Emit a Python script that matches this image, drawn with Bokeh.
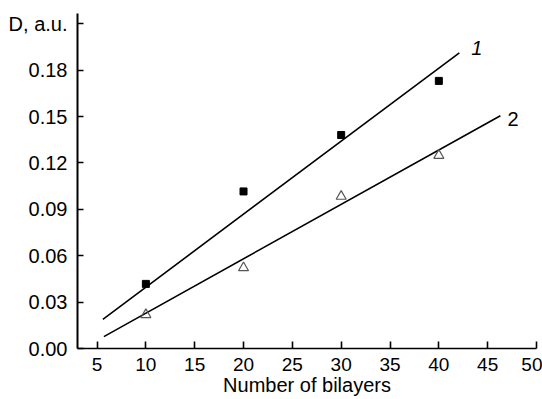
from bokeh.plotting import figure
from bokeh.models import Range1d, FixedTicker, ColumnDataSource
from bokeh.core.properties import value
from bokeh.embed import file_html
from bokeh.resources import INLINE

# Data
bilayers = [10, 20, 30, 40]
series1 = [0.0418, 0.1016, 0.1381, 0.1731]   # squares, curve 1
series2 = [0.0219, 0.0522, 0.0984, 0.1249]   # triangles, curve 2

fit1_x = [5.6, 42.1]
fit1_y = [0.0189, 0.1912]
fit2_x = [5.7, 46.3]
fit2_y = [0.0077, 0.1506]

curve_labels = ["1", "2"]
curve_label_x = [43.9, 47.6]
curve_label_y = [0.1947, 0.1487]

x_ticks = [5, 10, 15, 20, 25, 30, 35, 40, 45, 50]
y_ticks = [0.0, 0.03, 0.06, 0.09, 0.12, 0.15, 0.18, 0.21]
y_tick_labels = ["0.00", "0.03", "0.06", "0.09", "0.12", "0.15", "0.18", "D, a.u."]

FONT = "Liberation Sans"

p = figure(width=542, height=399, output_backend="svg", toolbar_location=None,
           x_range=Range1d(3, 50), y_range=Range1d(0, 0.2167),
           min_border_left=77, min_border_right=6, min_border_top=13, min_border_bottom=51)
p.outline_line_color = None
p.grid.visible = False
p.background_fill_color = "white"
p.border_fill_color = "white"

p.line(fit1_x, fit1_y, line_color="black", line_width=1.6)
p.line(fit2_x, fit2_y, line_color="black", line_width=1.6)

p.scatter(bilayers, series1, marker="square", size=7, fill_color="black", line_color="black")
p.scatter(bilayers, series2, marker="triangle", size=10, fill_color=None, line_color="#555555", line_width=1.2)

src = ColumnDataSource(dict(x=curve_label_x, y=curve_label_y, t=curve_labels,
                            st=["italic", "normal"]))
p.text(x="x", y="y", text="t", source=src, text_font=value(FONT), text_font_size="20px",
       text_font_style="st", text_align="center", text_baseline="middle", text_color="black")

xa = p.xaxis[0]
xa.ticker = FixedTicker(ticks=x_ticks)
xa.axis_label = "Number of bilayers"
xa.axis_label_text_font = FONT
xa.axis_label_text_font_size = "20px"
xa.axis_label_text_font_style = "normal"
xa.axis_label_text_color = "black"
xa.axis_label_standoff = 0
xa.major_label_text_font = FONT
xa.major_label_text_font_size = "19px"
xa.major_label_text_color = "black"
xa.major_label_standoff = 9
xa.major_tick_in = 7
xa.major_tick_out = 0
xa.minor_tick_in = 0
xa.minor_tick_out = 0
xa.axis_line_width = 1.6
xa.major_tick_line_width = 1.6

ya = p.yaxis[0]
ya.ticker = FixedTicker(ticks=y_ticks)
ya.major_label_overrides = {t: l for t, l in zip(y_ticks, y_tick_labels)}
ya.major_label_text_font = FONT
ya.major_label_text_font_size = "20px"
ya.major_label_text_color = "black"
ya.major_label_standoff = 10
ya.major_tick_in = 6
ya.major_tick_out = 0
ya.minor_tick_in = 0
ya.minor_tick_out = 0
ya.axis_line_width = 2
ya.major_tick_line_width = 1.6

open("out.html", "w").write(file_html(p, INLINE))
